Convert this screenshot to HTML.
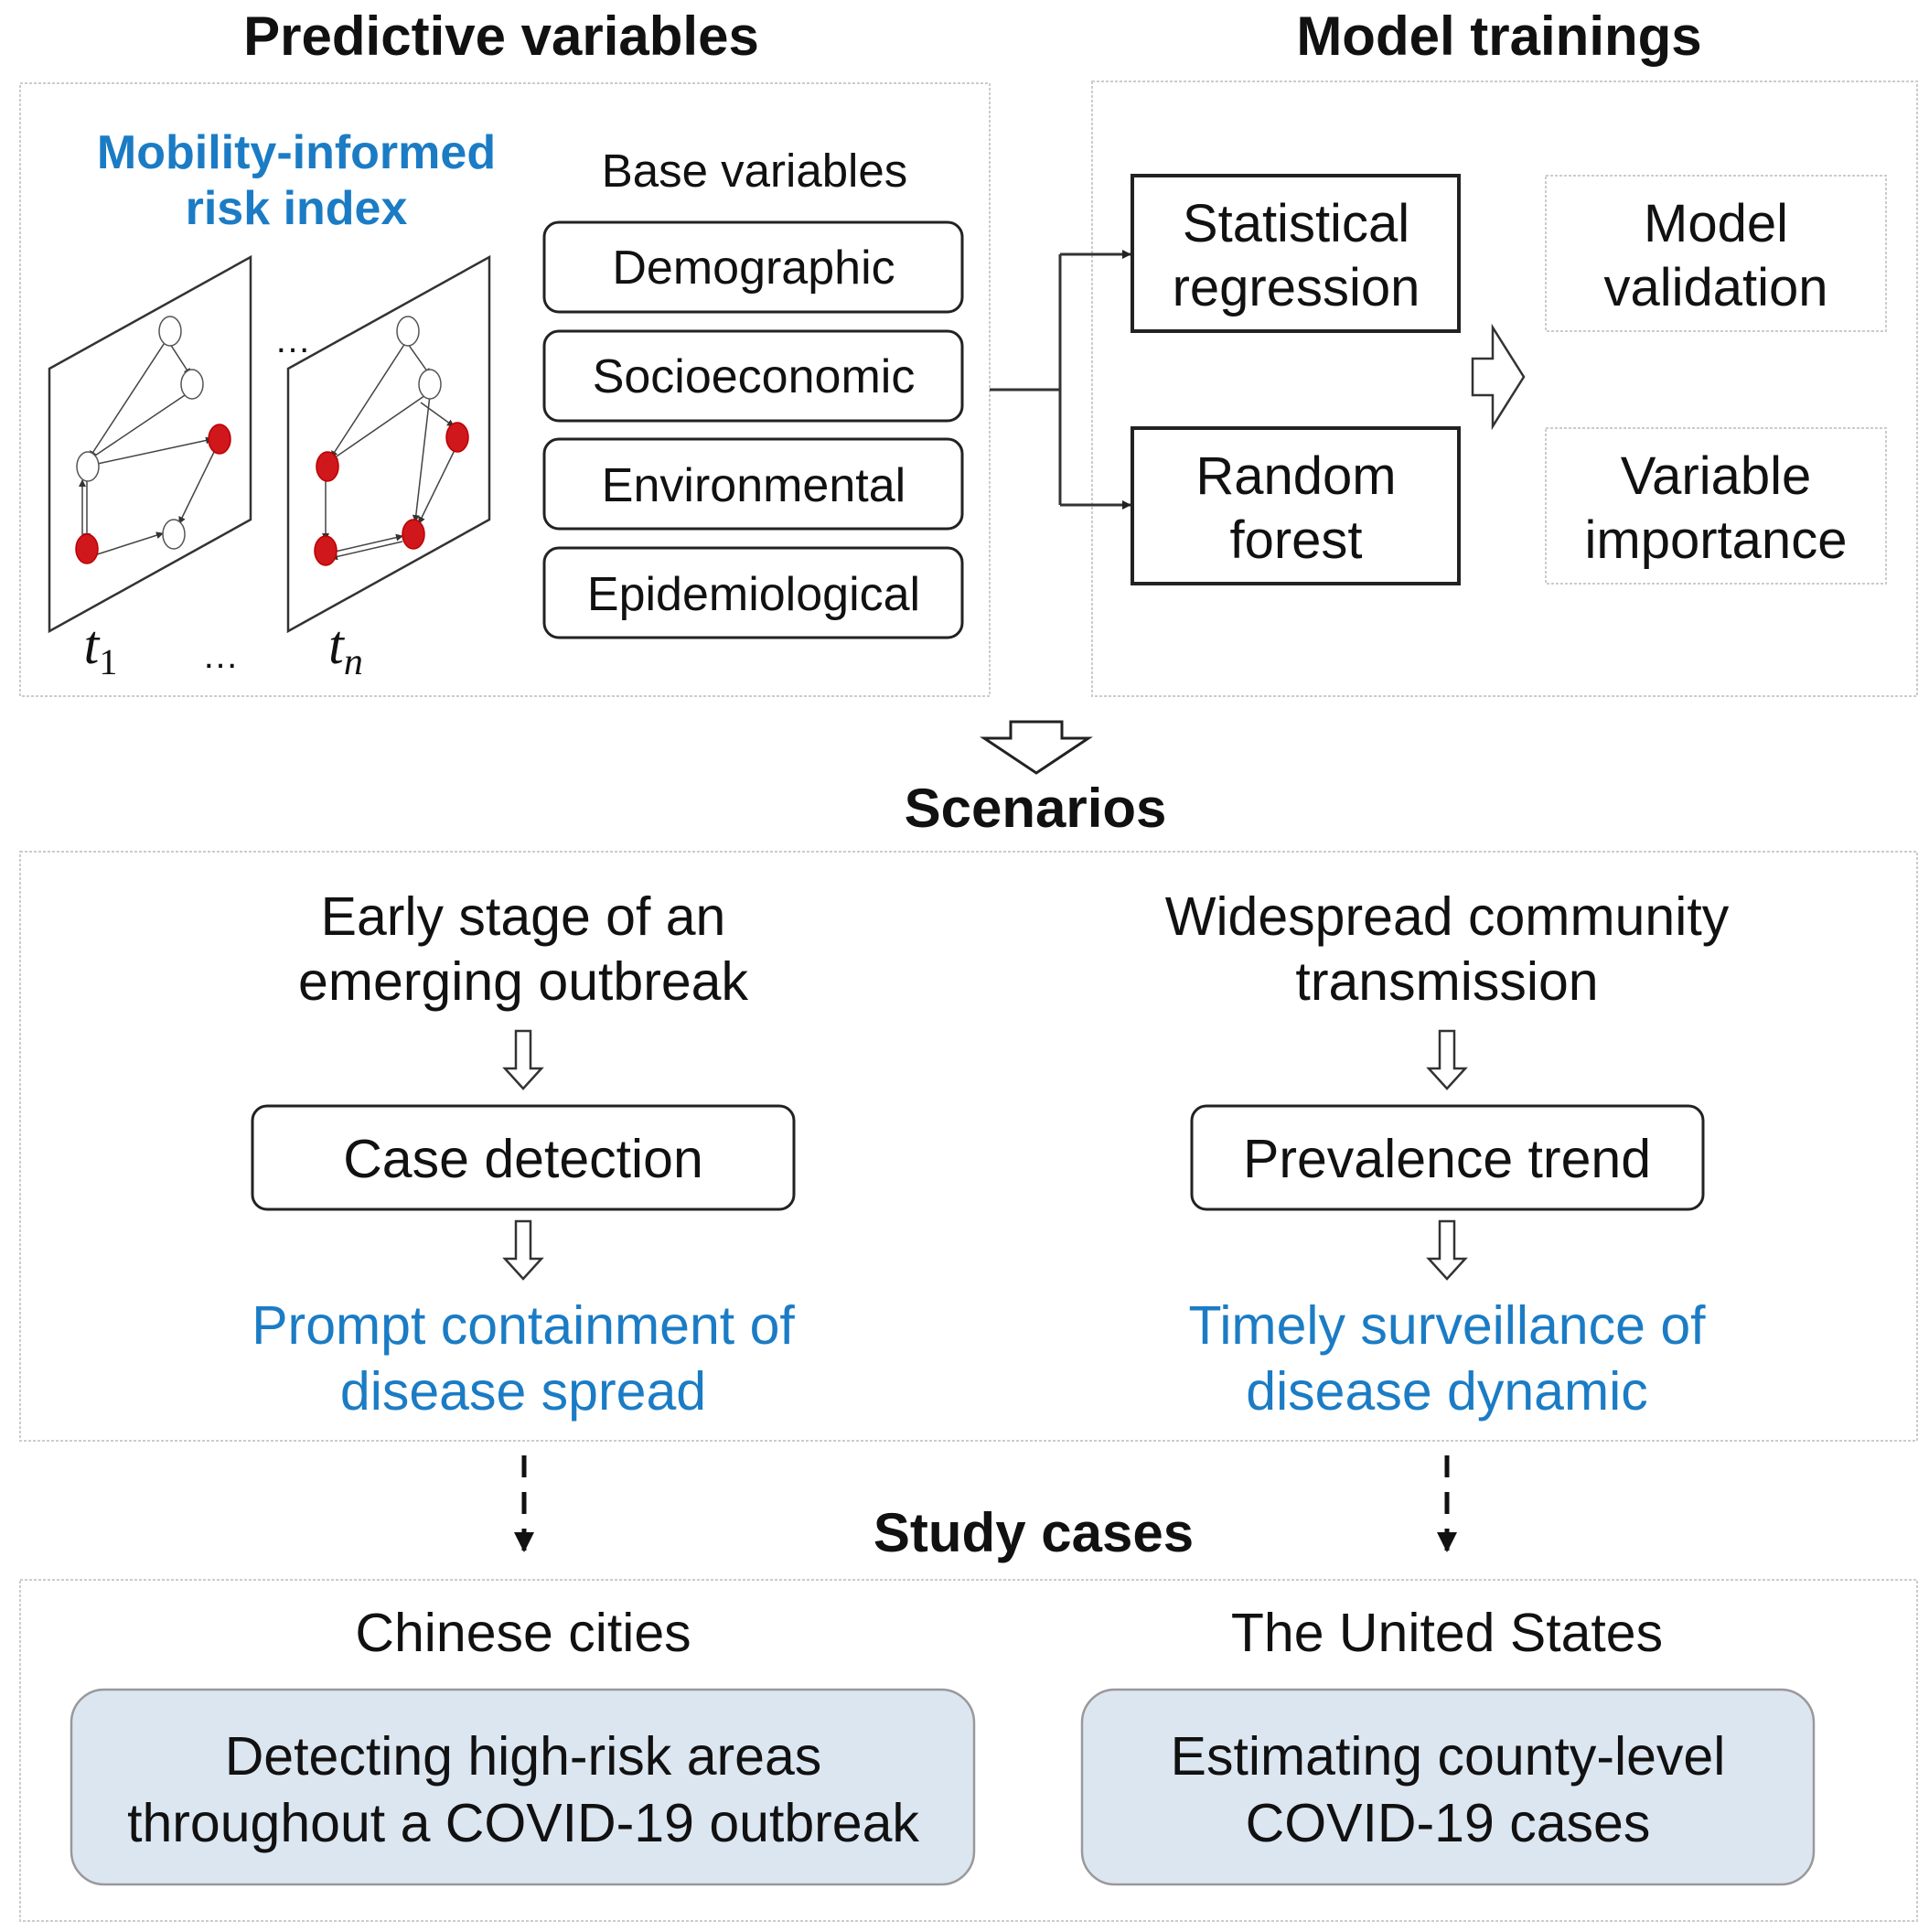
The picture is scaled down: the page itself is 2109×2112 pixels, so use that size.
<!DOCTYPE html>
<html><head><meta charset="utf-8"><style>
html,body{margin:0;padding:0;background:#fff;}
svg{display:block;}
text{font-family:"Liberation Sans",Arial,sans-serif;fill:#111;}
.b{font-weight:bold;}
.bl{fill:#1b7cc5;}
</style></head><body>
<svg width="2109" height="2112" viewBox="0 0 2109 2112" xmlns="http://www.w3.org/2000/svg">
<defs>
<marker id="ah" markerWidth="10" markerHeight="10" refX="9" refY="5" orient="auto" markerUnits="userSpaceOnUse"><path d="M0,0 L10,5 L0,10 z" fill="#222"/></marker>
<marker id="ah2" markerWidth="22" markerHeight="22" refX="20" refY="11" orient="auto" markerUnits="userSpaceOnUse"><path d="M0,0 L22,11 L0,22 z" fill="#111"/></marker>
<marker id="sa" markerWidth="8" markerHeight="8" refX="7" refY="4" orient="auto" markerUnits="userSpaceOnUse"><path d="M0,0 L8,4 L0,8 z" fill="#333"/></marker>
</defs>

<text x="548" y="60" font-size="60" text-anchor="middle" class="b">Predictive variables</text>
<text x="1639" y="60" font-size="60" text-anchor="middle" class="b">Model trainings</text>

<rect x="22" y="91" width="1060" height="670" fill="none" stroke="#ccc" stroke-width="2" stroke-dasharray="3,2"/>
<rect x="1194" y="89" width="902" height="672" fill="none" stroke="#ccc" stroke-width="2" stroke-dasharray="3,2"/>

<text x="324" y="184" font-size="52" text-anchor="middle" class="b bl">Mobility-informed</text>
<text x="324" y="245" font-size="52" text-anchor="middle" class="b bl">risk index</text>

<g stroke="#333" stroke-width="2.5" fill="#fff">
<polygon points="54,403 274,281 274,568 54,690"/>
<polygon points="315,403 535,281 535,568 315,690"/>
</g>
<g stroke="#444" stroke-width="1.5" fill="none" marker-end="url(#sa)">
<line x1="186" y1="376" x2="208" y2="410"/>
<line x1="183" y1="370" x2="98" y2="500"/>
<line x1="205" y1="430" x2="98" y2="502"/>
<line x1="102" y1="508" x2="232" y2="480"/>
<line x1="95" y1="520" x2="95" y2="590"/>
<line x1="90" y1="590" x2="90" y2="525"/>
<line x1="100" y1="608" x2="178" y2="583"/>
<line x1="236" y1="490" x2="196" y2="572"/>
<line x1="446" y1="376" x2="470" y2="410"/>
<line x1="445" y1="372" x2="362" y2="500"/>
<line x1="468" y1="430" x2="362" y2="503"/>
<line x1="470" y1="432" x2="454" y2="570"/>
<line x1="460" y1="440" x2="496" y2="466"/>
<line x1="498" y1="490" x2="458" y2="572"/>
<line x1="356" y1="520" x2="356" y2="590"/>
<line x1="362" y1="604" x2="440" y2="586"/>
<line x1="440" y1="592" x2="362" y2="610"/>
</g>
<g stroke="#555" stroke-width="1.5">
<ellipse cx="186" cy="362" rx="12" ry="16" fill="#fff"/>
<ellipse cx="210" cy="420" rx="12" ry="16" fill="#fff"/>
<ellipse cx="96" cy="510" rx="12" ry="16" fill="#fff"/>
<ellipse cx="240" cy="480" rx="12" ry="16" fill="#d0171c" stroke="#b00"/>
<ellipse cx="95" cy="600" rx="12" ry="16" fill="#d0171c" stroke="#b00"/>
<ellipse cx="190" cy="584" rx="12" ry="16" fill="#fff"/>
<ellipse cx="446" cy="362" rx="12" ry="16" fill="#fff"/>
<ellipse cx="470" cy="420" rx="12" ry="16" fill="#fff"/>
<ellipse cx="358" cy="510" rx="12" ry="16" fill="#d0171c" stroke="#b00"/>
<ellipse cx="500" cy="478" rx="12" ry="16" fill="#d0171c" stroke="#b00"/>
<ellipse cx="356" cy="602" rx="12" ry="16" fill="#d0171c" stroke="#b00"/>
<ellipse cx="452" cy="584" rx="12" ry="16" fill="#d0171c" stroke="#b00"/>
</g>
<text x="320" y="385" font-size="40" text-anchor="middle">…</text>
<text x="110" y="725" font-size="60" font-style="italic" text-anchor="middle" style="font-family:'Liberation Serif',serif">t<tspan font-size="40" dy="12" font-style="normal">1</tspan></text>
<text x="241" y="730" font-size="40" text-anchor="middle">…</text>
<text x="378" y="725" font-size="60" font-style="italic" text-anchor="middle" style="font-family:'Liberation Serif',serif">t<tspan font-size="42" dy="12">n</tspan></text>

<text x="825" y="204" font-size="51" text-anchor="middle">Base variables</text>
<g fill="none" stroke="#222" stroke-width="3">
<rect x="595" y="243" width="457" height="98" rx="16"/>
<rect x="595" y="362" width="457" height="98" rx="16"/>
<rect x="595" y="480" width="457" height="98" rx="16"/>
<rect x="595" y="599" width="457" height="98" rx="16"/>
</g>
<g font-size="52" text-anchor="middle">
<text x="824" y="310">Demographic</text>
<text x="824" y="429">Socioeconomic</text>
<text x="824" y="548">Environmental</text>
<text x="824" y="667">Epidemiological</text>
</g>

<g stroke="#333" stroke-width="3" fill="none">
<line x1="1082" y1="426" x2="1159" y2="426"/>
<line x1="1159" y1="278" x2="1159" y2="552"/>
<line x1="1159" y1="278" x2="1236" y2="278" marker-end="url(#ah)"/>
<line x1="1159" y1="552" x2="1236" y2="552" marker-end="url(#ah)"/>
</g>
<g fill="none" stroke="#222" stroke-width="4">
<rect x="1238" y="192" width="357" height="170"/>
<rect x="1238" y="468" width="357" height="170"/>
</g>
<g fill="none" stroke="#ccc" stroke-width="2" stroke-dasharray="3,2">
<rect x="1690" y="192" width="372" height="170"/>
<rect x="1690" y="468" width="372" height="170"/>
</g>
<g font-size="58" text-anchor="middle">
<text x="1417" y="264">Statistical</text>
<text x="1417" y="334">regression</text>
<text x="1417" y="540">Random</text>
<text x="1417" y="610">forest</text>
<text x="1876" y="264">Model</text>
<text x="1876" y="334">validation</text>
<text x="1876" y="540">Variable</text>
<text x="1876" y="610">importance</text>
</g>
<polygon points="1610,392 1632,392 1632,358 1666,412 1632,466 1632,432 1610,432" fill="#fff" stroke="#333" stroke-width="2.5"/>

<polygon points="1105,789 1161,789 1161,807 1190,807 1133,845 1076,807 1105,807" fill="#fff" stroke="#222" stroke-width="3"/>
<text x="1132" y="904" font-size="60" text-anchor="middle" class="b">Scenarios</text>

<rect x="22" y="931" width="2074" height="644" fill="none" stroke="#ccc" stroke-width="2" stroke-dasharray="3,2"/>
<g font-size="59" text-anchor="middle">
<text x="572" y="1022">Early stage of an</text>
<text x="572" y="1093">emerging outbreak</text>
<text x="1582" y="1022">Widespread community</text>
<text x="1582" y="1093">transmission</text>
<text x="572" y="1287">Case detection</text>
<text x="1582" y="1287">Prevalence trend</text>
<text x="572" y="1469" class="bl">Prompt containment of</text>
<text x="572" y="1541" class="bl">disease spread</text>
<text x="1582" y="1469" class="bl">Timely surveillance of</text>
<text x="1582" y="1541" class="bl">disease dynamic</text>
</g>
<g fill="none" stroke="#222" stroke-width="3">
<rect x="276" y="1209" width="592" height="113" rx="16"/>
<rect x="1303" y="1209" width="559" height="113" rx="16"/>
</g>
<g fill="#fff" stroke="#333" stroke-width="2.5">
<polygon points="564,1127 580,1127 580,1168 592,1168 572,1190 552,1168 564,1168"/>
<polygon points="1574,1127 1590,1127 1590,1168 1602,1168 1582,1190 1562,1168 1574,1168"/>
<polygon points="564,1335 580,1335 580,1376 592,1376 572,1398 552,1376 564,1376"/>
<polygon points="1574,1335 1590,1335 1590,1376 1602,1376 1582,1398 1562,1376 1574,1376"/>
</g>

<g stroke="#111" stroke-width="5" stroke-dasharray="24,16">
<line x1="573" y1="1591" x2="573" y2="1695" marker-end="url(#ah2)"/>
<line x1="1582" y1="1591" x2="1582" y2="1695" marker-end="url(#ah2)"/>
</g>
<text x="1130" y="1696" font-size="60" text-anchor="middle" class="b">Study cases</text>

<rect x="22" y="1727" width="2074" height="373" fill="none" stroke="#ccc" stroke-width="2" stroke-dasharray="3,2"/>
<g font-size="59" text-anchor="middle">
<text x="572" y="1805">Chinese cities</text>
<text x="1582" y="1805">The United States</text>
</g>
<g fill="#dce6f1" stroke="#999" stroke-width="2.5">
<rect x="78" y="1847" width="987" height="213" rx="36"/>
<rect x="1183" y="1847" width="800" height="213" rx="36"/>
</g>
<g font-size="59" text-anchor="middle">
<text x="572" y="1940">Detecting high-risk areas</text>
<text x="572" y="2013">throughout a COVID-19 outbreak</text>
<text x="1583" y="1940">Estimating county-level</text>
<text x="1583" y="2013">COVID-19 cases</text>
</g>
</svg>
</body></html>
